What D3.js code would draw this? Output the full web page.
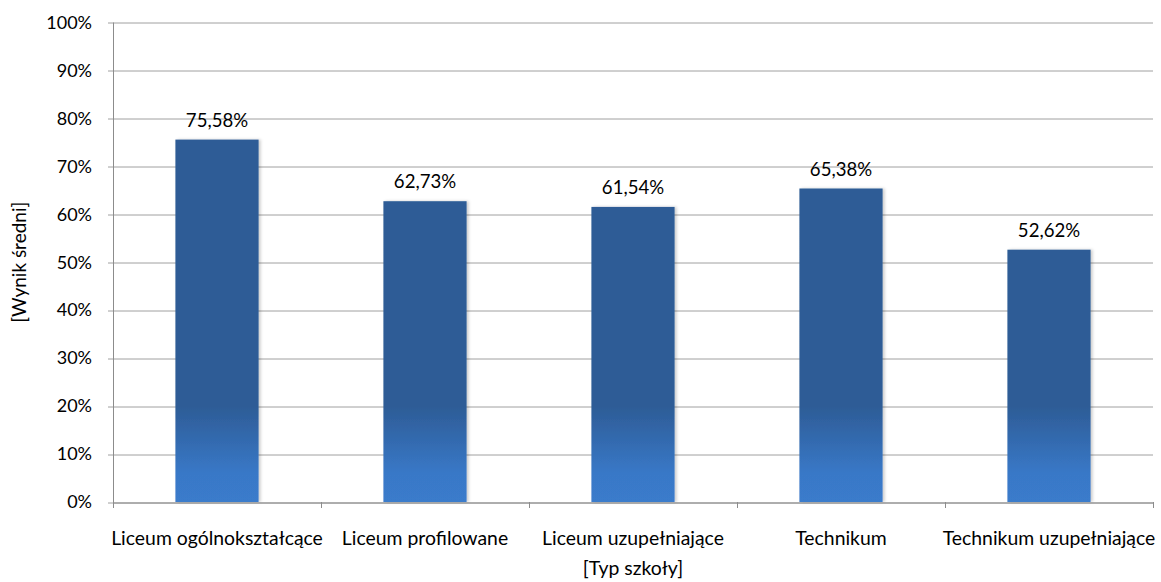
<!DOCTYPE html>
<html>
<head>
<meta charset="utf-8">
<script src="https://cdn.jsdelivr.net/npm/d3@7"></script>
<style>
  body { margin: 0; background: #fff; }
  text { font-family: Lato, "Liberation Sans", sans-serif; fill: #000; }
</style>
</head>
<body>
<div id="chart"></div>
<script>
// data
var categories = ['Liceum ogólnokształcące', 'Liceum profilowane', 'Liceum uzupełniające', 'Technikum', 'Technikum uzupełniające']
var values = [75.58, 62.73, 61.54, 65.38, 52.62]
var valueLabels = ['75,58%', '62,73%', '61,54%', '65,38%', '52,62%']
var yTicks = [0, 10, 20, 30, 40, 50, 60, 70, 80, 90, 100]

var W = 1161, H = 582
var margin = {top: 22.5, left: 113, right: 8, bottom: 80}
var width = W - margin.left - margin.right,
    height = H - margin.top - margin.bottom

var darkBlue = '#2D5C96'
var lightBlue = '#3A7BCB'
var gridColor = '#A0A0A0'

var svg = d3.select('#chart').append('svg')
  .attr('width', W)
  .attr('height', H)

var x = d3.scaleBand().domain(categories).range([0, width]).padding(0)
var y = d3.scaleLinear().domain([0, 100]).range([height, 0])

var defs = svg.append('defs')

// gradient is fixed to the plot, light only near the baseline
var grad = defs.append('linearGradient')
  .attr('id', 'barGrad')
  .attr('gradientUnits', 'userSpaceOnUse')
  .attr('x1', 0).attr('x2', 0)
  .attr('y1', y(0)).attr('y2', y(20))
grad.append('stop').attr('offset', '0%').attr('stop-color', lightBlue)
grad.append('stop').attr('offset', '30%').attr('stop-color', '#3978C7')
grad.append('stop').attr('offset', '100%').attr('stop-color', darkBlue)

var shadow = defs.append('filter').attr('id', 'shadow')
  .attr('x', '-10%').attr('y', '-10%').attr('width', '130%').attr('height', '120%')
shadow.append('feDropShadow')
  .attr('dx', 2).attr('dy', 0).attr('stdDeviation', 1.5)
  .attr('flood-color', '#000').attr('flood-opacity', 0.2)

var g = svg.append('g').attr('transform', 'translate(' + margin.left + ',' + margin.top + ')')

// gridlines + left ticks
g.selectAll('.grid')
  .data(yTicks)
  .enter()
  .append('line')
  .attr('class', 'grid')
  .attr('x1', -5)
  .attr('x2', width)
  .attr('y1', function(d) { return Math.round(y(d)) + 0.5 })
  .attr('y2', function(d) { return Math.round(y(d)) + 0.5 })
  .style('stroke', gridColor)
  .style('stroke-width', 1)

var yAxis = d3.axisLeft(y)
  .tickValues(yTicks)
  .tickSize(0)
  .tickPadding(21)
  .tickFormat(function(d) { return d + '%' })

var ya = g.append('g').call(yAxis)
ya.select('.domain').remove()
ya.selectAll('text').style('font-size', '18px')

// axis lines
g.append('line')
  .attr('x1', 0.5).attr('x2', 0.5)
  .attr('y1', y(100)).attr('y2', y(0))
  .style('stroke', '#8C8C8C')

// bars
var barW = x.bandwidth() * 0.4
g.selectAll('.bar')
  .data(values)
  .enter()
  .append('rect')
  .attr('class', 'bar')
  .attr('x', function(d, i) { return x(categories[i]) + (x.bandwidth() - barW) / 2 })
  .attr('width', barW)
  .attr('y', function(d) { return y(d) })
  .attr('height', function(d) { return y(0) - y(d) })
  .style('fill', 'url(#barGrad)')
  .attr('filter', 'url(#shadow)')

// bottom axis line and category boundary ticks
g.append('line')
  .attr('x1', 0).attr('x2', width)
  .attr('y1', Math.round(y(0)) + 0.5).attr('y2', Math.round(y(0)) + 0.5)
  .style('stroke', '#8C8C8C')

var bounds = d3.range(categories.length + 1)
g.selectAll('.xtick')
  .data(bounds)
  .enter()
  .append('line')
  .attr('x1', function(d) { return Math.round(d * x.step()) + 0.5 })
  .attr('x2', function(d) { return Math.round(d * x.step()) + 0.5 })
  .attr('y1', y(0))
  .attr('y2', y(0) + 6)
  .style('stroke', '#8C8C8C')

// category labels
g.selectAll('.cat')
  .data(categories)
  .enter()
  .append('text')
  .attr('x', function(d) { return x(d) + x.bandwidth() / 2 })
  .attr('y', y(0) + 43)
  .attr('text-anchor', 'middle')
  .style('font-size', '19.4px')
  .text(function(d) { return d })

// value labels
g.selectAll('.val')
  .data(values)
  .enter()
  .append('text')
  .attr('x', function(d, i) { return x(categories[i]) + x.bandwidth() / 2 })
  .attr('y', function(d) { return y(d) - 13 })
  .attr('text-anchor', 'middle')
  .style('font-size', '18.6px')
  .text(function(d, i) { return valueLabels[i] })

// axis titles
svg.append('text')
  .attr('x', margin.left + width / 2)
  .attr('y', 575)
  .attr('text-anchor', 'middle')
  .style('font-size', '19.4px')
  .text('[Typ szkoły]')

svg.append('text')
  .attr('transform', 'translate(26,' + (margin.top + height / 2) + ') rotate(-90)')
  .attr('text-anchor', 'middle')
  .style('font-size', '19px')
  .text('[Wynik średni]')
</script>
</body>
</html>
